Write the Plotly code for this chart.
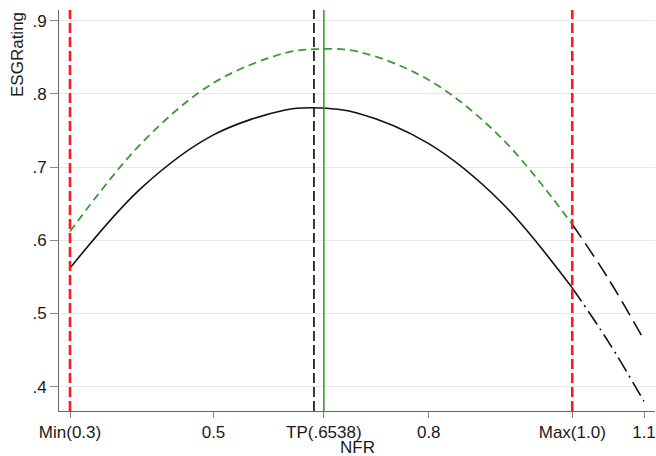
import plotly.graph_objects as go

# ---- data ----
nfr_in = [0.30, 0.40, 0.50, 0.60, 0.64, 0.70, 0.80, 0.90, 1.00]
esg_fit_in = [0.562, 0.672, 0.744, 0.778, 0.781, 0.774, 0.732, 0.653, 0.535]
esg_upper_in = [0.612, 0.733, 0.815, 0.856, 0.861, 0.858, 0.819, 0.741, 0.622]

nfr_out = [1.00, 1.05, 1.10]
esg_fit_out = [0.535, 0.462, 0.380]
esg_upper_out = [0.622, 0.548, 0.464]

min_nfr = 0.3
max_nfr = 1.0
tp_black = 0.64
tp_green = 0.6538

x_tickvals = [0.3, 0.5, 0.6538, 0.8, 1.0, 1.1]
x_ticktext = ["Min(0.3)", "0.5", "TP(.6538)", "0.8", "Max(1.0)", "1.1"]
y_tickvals = [0.4, 0.5, 0.6, 0.7, 0.8, 0.9]
y_ticktext = [".4", ".5", ".6", ".7", ".8", ".9"]

GREEN = "#3c9a32"
RED = "#ff1a1a"
TXT = "#1a1a1a"

fig = go.Figure()

fig.add_trace(go.Scatter(x=nfr_in, y=esg_upper_in, mode="lines", line_shape="spline",
                         line=dict(color=GREEN, width=1.8, dash="8px,5px"), showlegend=False))
fig.add_trace(go.Scatter(x=nfr_in, y=esg_fit_in, mode="lines", line_shape="spline",
                         line=dict(color="#111111", width=1.6), showlegend=False))
fig.add_trace(go.Scatter(x=nfr_out, y=esg_upper_out, mode="lines", line_shape="spline",
                         line=dict(color="#111111", width=1.6, dash="16px,7px"), showlegend=False))
fig.add_trace(go.Scatter(x=nfr_out, y=esg_fit_out, mode="lines", line_shape="spline",
                         line=dict(color="#111111", width=1.6, dash="16px,5px,2px,5px"), showlegend=False))

fig.add_shape(type="line", xref="x", yref="paper", x0=tp_black, x1=tp_black, y0=0, y1=1,
              line=dict(color="#222222", width=1.8, dash="10px,4px"), layer="above")
fig.add_shape(type="line", xref="x", yref="paper", x0=tp_green, x1=tp_green, y0=0, y1=1,
              line=dict(color=GREEN, width=1.6), layer="above")
for xv in (min_nfr, max_nfr):
    fig.add_shape(type="line", xref="x", yref="paper", x0=xv, x1=xv, y0=0, y1=1,
                  line=dict(color=RED, width=2.6, dash="10px,4px"), layer="above")

fig.update_layout(
    width=656, height=456,
    margin=dict(l=59, r=1, t=10, b=45),
    paper_bgcolor="white", plot_bgcolor="white",
    font=dict(family="Liberation Sans, Arial, sans-serif", size=17, color=TXT),
)
fig.update_xaxes(
    range=[0.28467, 1.11533], tickvals=x_tickvals, ticktext=x_ticktext,
    showgrid=False, zeroline=False, showline=True, linecolor="#666666", linewidth=1,
    ticks="outside", ticklen=6, tickcolor="#888888", automargin=False,
)
fig.update_yaxes(
    range=[0.3668, 0.91462], tickvals=y_tickvals, ticktext=y_ticktext,
    showgrid=True, gridcolor="#e8e8e8", gridwidth=1, zeroline=False,
    showline=True, linecolor="#666666", linewidth=1,
    ticks="outside", ticklen=8, tickcolor="#888888", automargin=False,
)
fig.add_annotation(text="NFR", xref="paper", yref="paper", x=0.5, y=0,
                   yshift=-36, xanchor="center", yanchor="middle", showarrow=False,
                   borderpad=0, font=dict(size=17, color=TXT))
fig.add_annotation(text="ESGRating", xref="paper", yref="paper", x=0, y=1,
                   xshift=-42, yshift=-45, xanchor="center", yanchor="middle",
                   textangle=-90, showarrow=False, font=dict(size=17, color=TXT))

fig.write_html(
    "out.html",
    config={"displayModeBar": False},
    post_script="document.body.style.margin='0px';document.body.style.overflow='hidden';",
)
